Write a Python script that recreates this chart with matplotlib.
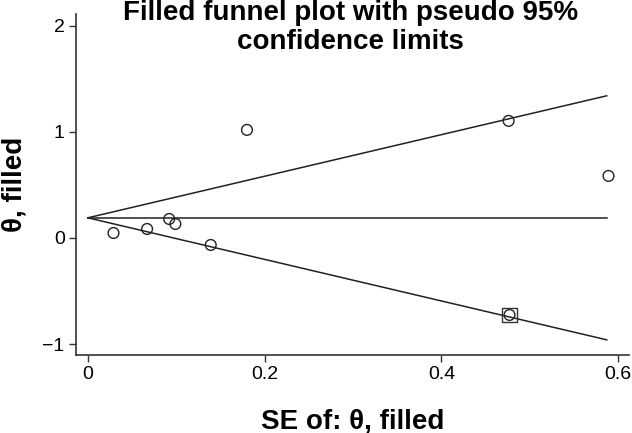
import matplotlib.pyplot as plt
import numpy as np

# observed studies
se_obs = [0.029, 0.067, 0.092, 0.099, 0.139, 0.180, 0.476, 0.589]
theta_obs = [0.047, 0.085, 0.179, 0.132, -0.066, 1.019, 1.104, 0.585]
# filled (imputed) study
se_fill = [0.477]
theta_fill = [-0.726]

theta_pooled = 0.19
se_max = 0.587

plt.rcParams['font.family'] = ['Liberation Sans', 'DejaVu Sans']

fig = plt.figure(figsize=(6.32, 4.33), dpi=100)
ax = fig.add_axes([0.120, 0.180, 0.875, 0.788])

se_line = np.array([0, se_max])
ax.plot(se_line, theta_pooled + 1.96 * se_line, color='#222222', lw=1.1)
ax.plot(se_line, theta_pooled - 1.96 * se_line, color='#222222', lw=1.1)
ax.plot(se_line, [theta_pooled, theta_pooled], color='#222222', lw=1.1)

ax.scatter(se_obs + se_fill, theta_obs + theta_fill, s=60, facecolors='none',
           edgecolors='#222222', linewidths=1.0, zorder=3)
ax.scatter(se_fill, theta_fill, s=110, marker='s', facecolors='none',
           edgecolors='#333333', linewidths=1.0, zorder=3)

ax.set_xlim(-0.0136, 0.612)
ax.set_ylim(-1.104, 2.113)
ax.set_xticks([0, 0.2, 0.4, 0.6])
ax.set_xticklabels(['0', '0.2', '0.4', '0.6'])
ax.set_yticks([-1, 0, 1, 2])
ax.set_yticklabels(['\u22121', '0', '1', '2'])
ax.tick_params(labelsize=14, length=5, width=1, color='#333333', pad=3)
for s in ['top', 'right']:
    ax.spines[s].set_visible(False)
for s in ['left', 'bottom']:
    ax.spines[s].set_color('#333333')
    ax.spines[s].set_linewidth(1.2)

ax.set_xlabel('SE of: \u03b8, filled', fontsize=20, fontweight='bold', labelpad=18)
ax.set_ylabel('\u03b8, filled', fontsize=20, fontweight='bold', labelpad=11)

fig.text(0.554, 1.0, 'Filled funnel plot with pseudo 95%\nconfidence limits',
         ha='center', va='top', fontsize=20, fontweight='bold', linespacing=1.15)

fig.savefig('out.png', dpi=100)
